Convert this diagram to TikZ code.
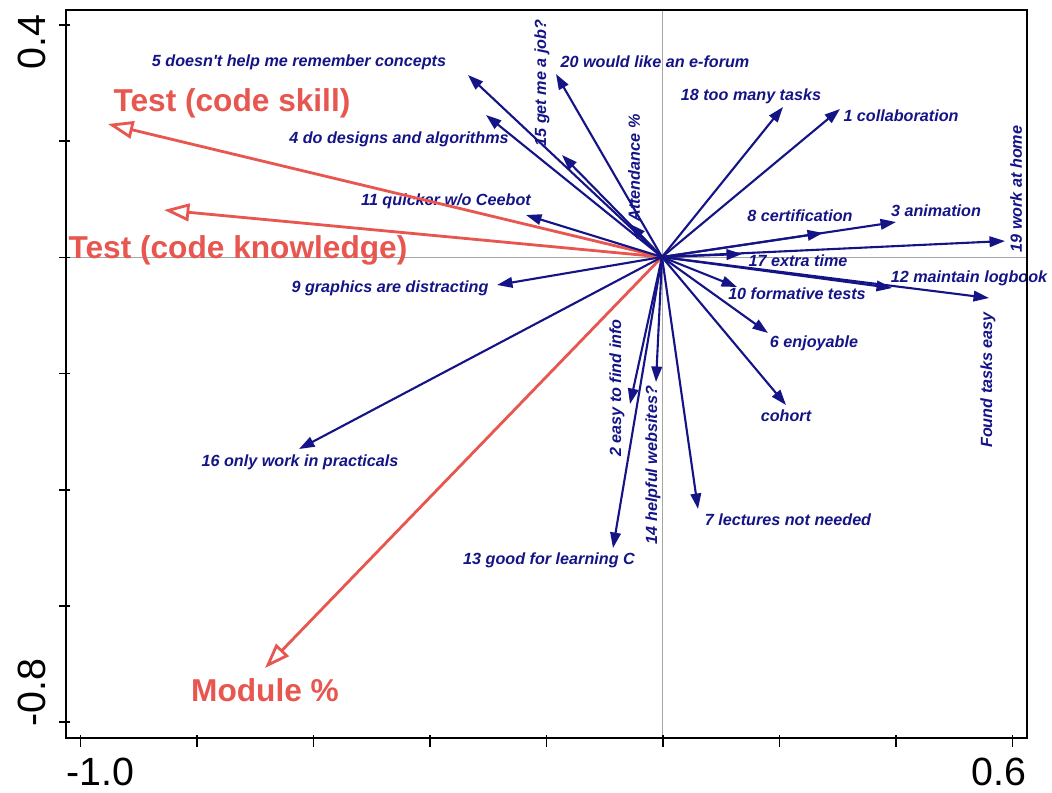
\documentclass[tikz,border=0pt]{standalone}
\usepackage{fontspec}
\setmainfont{Liberation Sans}
\newfontfamily\lblfont{Liberation Sans}[Ligatures=TeXOff]
\usetikzlibrary{arrows.meta}
\definecolor{navy}{RGB}{20,20,135}
\definecolor{redv}{RGB}{232,86,80}
\begin{document}
\begin{tikzpicture}[x=0.025cm,y=-0.025cm,
  bl/.style={text=navy,font=\lblfont\fontsize{11.5}{13}\selectfont\bfseries\itshape,inner sep=0pt},
  ba/.style={draw=navy,line width=1.5pt,-{Triangle[length=11pt,width=7.5pt]}},
  ra/.style={draw=redv,line width=2pt,-{Triangle[open,length=18pt,width=12.5pt,line width=2pt]}},
  rl/.style={text=redv,font=\fontsize{22.5}{26}\selectfont\bfseries,inner sep=0pt},
  axl/.style={font=\fontsize{28}{32}\selectfont,inner sep=0pt},
  tickmark/.style={line width=1.2pt},
  axisline/.style={draw=gray!70,line width=0.6pt}]
\useasboundingbox (0,0) rectangle (1052,792);
\fill[white] (0,0) rectangle (1052,792);
% zero lines
\coordinate (o) at (662,257);
\coordinate (vt) at (662,10); \coordinate (vb) at (662,738);
\coordinate (hl) at (66,257); \coordinate (hr) at (1027,257);
\draw[axisline] (vt) -- (vb);
\draw[axisline] (hl) -- (hr);
% labels (blue)
\node[bl] (l5) at (299,62) {5 doesn't help me remember concepts};
\node[bl] (l4) at (399,139) {4 do designs and algorithms};
\node[bl] (l11) at (446,201) {11 quicker w/o Ceebot};
\node[bl] (l9) at (390,288) {9 graphics are distracting};
\node[bl] (l16) at (300,462) {16 only work in practicals};
\node[bl] (l13) at (549,560) {13 good for learning C};
\node[bl,rotate=90] (l2) at (617,388) {2 easy to find info};
\node[bl,rotate=90] (l14) at (653,465) {14 helpful websites?};
\node[bl] (l7) at (788,520) {7 lectures not needed};
\node[bl] (lc) at (786,416) {cohort};
\node[bl] (l6) at (814,343) {6 enjoyable};
\node[bl] (l10) at (797,294) {10 formative tests};
\node[bl] (l12) at (969,278) {12 maintain logbook};
\node[bl,rotate=90] (lf) at (988,380) {Found tasks easy};
\node[bl] (l17) at (798,261) {17 extra time};
\node[bl,rotate=90] (l19) at (1016,189) {19 work at home};
\node[bl] (l3) at (936,211) {3 animation};
\node[bl] (l8) at (800,216) {8 certification};
\node[bl] (l1) at (901,116) {1 collaboration};
\node[bl] (l18) at (751,96) {18 too many tasks};
\node[bl,rotate=90] (la) at (634,168) {Attendance \%};
\node[bl] (l20) at (655,62) {20 would like an e-forum};
\node[bl,rotate=90] (l15) at (542,83) {15 get me a job?};
% red labels
\node[rl] (rs) at (232,103) {Test (code skill)};
\node[rl] (rk) at (238,250) {Test (code knowledge)};
\node[rl] (rm) at (265,690) {Module \%};
% tips
\coordinate (t5) at (468,75);
\coordinate (t4) at (486,115);
\coordinate (t11) at (526,215);
\coordinate (t9) at (497,285);
\coordinate (t16) at (299,449);
\coordinate (t13) at (613,548);
\coordinate (t2) at (630,404);
\coordinate (t14) at (656,382);
\coordinate (t7) at (698,509);
\coordinate (tc) at (786,405);
\coordinate (t6) at (768,333);
\coordinate (t10) at (737,287);
\coordinate (t12) at (892,288);
\coordinate (tf) at (989,298);
\coordinate (t17) at (742,254);
\coordinate (t19) at (1005,241);
\coordinate (t3) at (896,222);
\coordinate (t8) at (823,233);
\coordinate (t1) at (840,109);
\coordinate (t18) at (783,107);
\coordinate (ta) at (630,224);
\coordinate (t20) at (556,74);
\coordinate (t15) at (562,155);
\coordinate (trs) at (108,124);
\coordinate (trk) at (164,210);
\coordinate (trm) at (265,668);
% red arrows
\draw[ra] (o) -- (trs);
\draw[ra] (o) -- (trk);
\draw[ra] (o) -- (trm);
% blue arrows
\foreach \t in {t5,t4,t11,t9,t16,t13,t2,t14,t7,tc,t6,t10,t12,tf,t17,t19,t3,t8,t1,t18,ta,t20,t15}
  \draw[ba] (o) -- (\t);
% frame
\coordinate (fa) at (66,10); \coordinate (fb) at (1027,738);
\draw[line width=1.8pt] (fa) rectangle (fb);
% ticks
\foreach \k in {0,...,8}
  \draw[tickmark] (80.5+116.5*\k,735) -- (80.5+116.5*\k,747);
\foreach \k in {0,...,6}
  \draw[tickmark] (59,25+116.2*\k) -- (70,25+116.2*\k);
% axis numbers
\node[axl] (xa) at (100,772) {-1.0};
\node[axl] (xb) at (999,772) {0.6};
\node[axl,rotate=90] (ya) at (32,42) {0.4};
\node[axl,rotate=90] (yb) at (32,693) {-0.8};
\end{tikzpicture}
\end{document}
